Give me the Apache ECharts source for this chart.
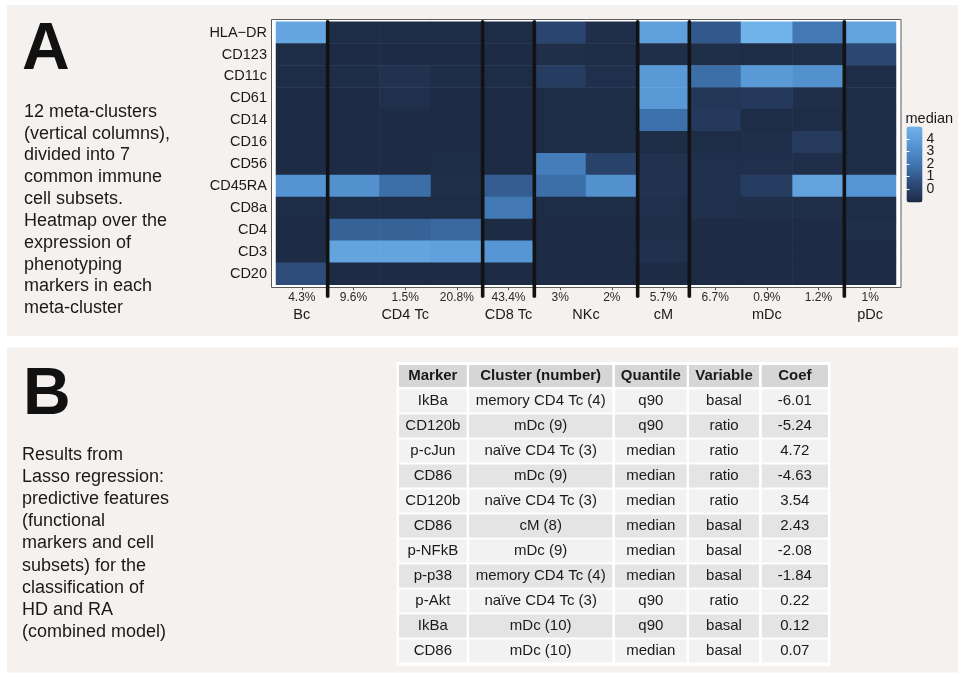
<!DOCTYPE html>
<html>
<head>
<meta charset="utf-8">
<script src="https://cdn.jsdelivr.net/npm/echarts@6/dist/echarts.min.js"></script>
<style>
  html, body { margin: 0; padding: 0; background: #ffffff; }
  #chart { width: 958px; height: 676px; }
</style>
</head>
<body>
<div id="chart"></div>
<script>
// ---- Panel A: phenotyping markers (rows, top to bottom) ----
const markers = ['HLA−DR', 'CD123', 'CD11c', 'CD61', 'CD14', 'CD16', 'CD56', 'CD45RA', 'CD8a', 'CD4', 'CD3', 'CD20'];
// share of cells in each of the 12 meta-clusters (columns)
const clusterShares = ['4.3%', '9.6%', '1.5%', '20.8%', '43.4%', '3%', '2%', '5.7%', '6.7%', '0.9%', '1.2%', '1%'];
// immune cell subsets and how many meta-clusters each one spans
const subsetNames = ['Bc', 'CD4 Tc', 'CD8 Tc', 'NKc', 'cM', 'mDc', 'pDc'];
const subsetSizes = [1, 3, 1, 2, 1, 3, 1];

// median expression per marker, one value per meta-cluster
const medHLADR  = [4.36, -0.98, -0.98, -0.98, -0.98, 0.14, -0.91, 3.98, 0.95, 5.00, 2.12, 4.17];
const medCD123  = [-0.98, -1.04, -1.04, -1.04, -1.04, -0.91, -0.98, -0.91, -0.91, -0.98, -0.91, 0.26];
const medCD11c  = [-0.98, -0.98, -0.73, -0.98, -0.98, -0.23, -0.85, 3.67, 1.69, 3.67, 3.24, -0.98];
const medCD61   = [-1.04, -1.04, -0.85, -1.04, -1.04, -0.98, -0.98, 3.67, -0.48, -0.42, -0.91, -0.98];
const medCD14   = [-1.04, -1.04, -1.04, -1.04, -1.04, -0.98, -0.98, 1.81, -0.42, -0.98, -0.98, -0.98];
const medCD16   = [-1.04, -1.04, -1.04, -1.04, -1.04, -0.98, -0.98, -0.98, -0.98, -0.91, -0.36, -0.98];
const medCD56   = [-1.04, -1.04, -1.04, -0.98, -1.04, 2.31, 0.02, -0.73, -0.85, -0.85, -0.91, -0.98];
const medCD45RA = [3.43, 3.24, 1.69, -0.91, 1.07, 1.69, 3.24, -0.67, -0.79, -0.23, 4.17, 3.49];
const medCD8a   = [-0.98, -0.98, -0.98, -0.98, 2.12, -0.98, -0.98, -0.85, -0.85, -0.91, -0.91, -0.98];
const medCD4    = [-1.04, 1.26, 1.26, 1.50, -1.04, -1.04, -1.04, -0.91, -1.04, -1.04, -1.04, -0.91];
const medCD3    = [-1.04, 4.23, 4.23, 3.98, 3.55, -1.04, -1.04, -0.79, -1.04, -1.04, -1.04, -1.04];
const medCD20   = [0.45, -1.04, -1.04, -1.04, -1.04, -1.04, -1.04, -1.04, -1.04, -1.04, -1.04, -1.04];
const medianRows = [medHLADR, medCD123, medCD11c, medCD61, medCD14, medCD16, medCD56,
                    medCD45RA, medCD8a, medCD4, medCD3, medCD20];

const scaleMin = -1.1;
const scaleMax = 5.0;
const legendTicks = [0, 1, 2, 3, 4];

// ---- Panel B: Lasso regression table ----
const tableHeader = ['Marker', 'Cluster (number)', 'Quantile', 'Variable', 'Coef'];
const tabMarker   = ['IkBa', 'CD120b', 'p-cJun', 'CD86', 'CD120b', 'CD86', 'p-NFkB', 'p-p38', 'p-Akt', 'IkBa', 'CD86'];
const tabCluster  = ['memory CD4 Tc (4)', 'mDc (9)', 'naïve CD4 Tc (3)', 'mDc (9)', 'naïve CD4 Tc (3)', 'cM (8)',
                     'mDc (9)', 'memory CD4 Tc (4)', 'naïve CD4 Tc (3)', 'mDc (10)', 'mDc (10)'];
const tabQuantile = ['q90', 'q90', 'median', 'median', 'median', 'median', 'median', 'median', 'q90', 'q90', 'median'];
const tabVariable = ['basal', 'ratio', 'ratio', 'ratio', 'ratio', 'basal', 'basal', 'basal', 'ratio', 'basal', 'basal'];
const tabCoef     = ['-6.01', '-5.24', '4.72', '-4.63', '3.54', '2.43', '-2.08', '-1.84', '0.22', '0.12', '0.07'];

// ---- derived data ----
const heatData = [];
medianRows.forEach((row, r) => row.forEach((v, c) => heatData.push([c, r, v])));

const subsetCenters = [];
const subsetBounds = [];
let acc = 0;
subsetSizes.forEach((n, i) => {
  subsetCenters.push(acc + n / 2);
  acc += n;
  if (i < subsetSizes.length - 1) subsetBounds.push(acc);
});
// colour-bar labels split over two axes so none of them gets thinned out
const legendTicksEven = legendTicks.filter((_, i) => i % 2 === 0);
const legendTicksOdd = legendTicks.filter((_, i) => i % 2 === 1);

const FONT = "'Liberation Sans', Arial, Helvetica, sans-serif";
const INK = '#1a1a1a';
const PANEL_BG = '#f4f1ef';

// ---- page decoration: panels, letters, captions, table ----
const graphics = [
  { type: 'rect', z: 0, shape: { x: 7, y: 5, width: 951, height: 331 }, style: { fill: PANEL_BG } },
  { type: 'rect', z: 0, shape: { x: 7, y: 347.5, width: 951, height: 325 }, style: { fill: PANEL_BG } },
  { type: 'text', z: 10, x: 22, y: 50.5,
    style: { text: 'A', font: `bold 66px ${FONT}`, fill: '#111', verticalAlign: 'middle' } },
  { type: 'text', z: 10, x: 23, y: 396,
    style: { text: 'B', font: `bold 66px ${FONT}`, fill: '#111', verticalAlign: 'middle' } },
  { type: 'text', z: 10, x: 24, y: 100.8,
    style: {
      text: '12 meta-clusters\n(vertical columns),\ndivided into 7\ncommon immune\ncell subsets.\nHeatmap over the\nexpression of\nphenotyping\nmarkers in each\nmeta-cluster',
      font: `18px ${FONT}`, lineHeight: 21.85, fill: INK, verticalAlign: 'top'
    } },
  { type: 'text', z: 10, x: 22, y: 444,
    style: {
      text: 'Results from\nLasso regression:\npredictive features\n(functional\nmarkers and cell\nsubsets) for the\nclassification of\nHD and RA\n(combined model)',
      font: `18px ${FONT}`, lineHeight: 22.1, fill: INK, verticalAlign: 'top'
    } },
  { type: 'text', z: 10, x: 905.5, y: 118.5,
    style: { text: 'median', font: `14.5px ${FONT}`, fill: INK, verticalAlign: 'middle' } }
];

// table layout
const colLeft  = [399, 469, 615, 689, 761.7];
const colRight = [466.7, 612.3, 686.7, 759, 828];
const headCenter = 376;
const rowCenter0 = 401;
const rowPitch = 25;
graphics.push({ type: 'rect', z: 1, shape: { x: 396.5, y: 362, width: 434, height: 304 }, style: { fill: '#ffffff' } });
const tableCols = [tabMarker, tabCluster, tabQuantile, tabVariable, tabCoef];
tableHeader.forEach((h, c) => {
  graphics.push({ type: 'rect', z: 2,
    shape: { x: colLeft[c], y: headCenter - 11, width: colRight[c] - colLeft[c], height: 22 },
    style: { fill: '#d6d6d6' } });
  graphics.push({ type: 'text', z: 3, x: (colLeft[c] + colRight[c]) / 2, y: headCenter,
    style: { text: h, font: `bold 15px ${FONT}`, fill: INK, align: 'center', verticalAlign: 'middle' } });
});
tabMarker.forEach((_, r) => {
  const cy = rowCenter0 + r * rowPitch;
  tableCols.forEach((col, c) => {
    graphics.push({ type: 'rect', z: 2,
      shape: { x: colLeft[c], y: cy - 11.5, width: colRight[c] - colLeft[c], height: 23 },
      style: { fill: r % 2 === 0 ? '#f2f2f2' : '#e4e4e4' } });
    graphics.push({ type: 'text', z: 3, x: (colLeft[c] + colRight[c]) / 2, y: cy,
      style: { text: col[r], font: `15px ${FONT}`, fill: INK, align: 'center', verticalAlign: 'middle' } });
  });
});

function legendAxis(position, labelValues, tickValues) {
  return {
    gridIndex: 2, type: 'value', min: scaleMin, max: scaleMax, position: position,
    axisLine: { show: false }, splitLine: { show: false },
    axisTick: { show: tickValues.length > 0, inside: true, length: 3, customValues: tickValues,
      lineStyle: { color: '#ffffff', width: 1 } },
    axisLabel: { show: labelValues.length > 0, customValues: labelValues,
      showMinLabel: true, showMaxLabel: true,
      margin: 4, fontSize: 14, color: INK, fontFamily: FONT }
  };
}

const chart = echarts.init(document.getElementById('chart'), null, { renderer: 'canvas' });

chart.setOption({
  animation: false,
  backgroundColor: '#ffffff',
  textStyle: { fontFamily: FONT },
  graphic: { elements: graphics },
  grid: [
    // panel frame
    { z: 1, left: 271.5, top: 19.5, width: 629.5, height: 268, show: true,
      backgroundColor: '#ffffff', borderColor: '#5a5a5a', borderWidth: 1, containLabel: false },
    // heatmap tiles
    { z: 1, left: 276, top: 21.7, width: 620, height: 263, containLabel: false },
    // colour bar ticks
    { z: 1, left: 906.5, top: 126.5, width: 16, height: 76, containLabel: false }
  ],
  xAxis: [
    { gridIndex: 0, type: 'value', show: false },
    { gridIndex: 1, type: 'category', data: clusterShares, position: 'bottom', offset: 2.5,
      axisLine: { show: false },
      axisTick: { show: true, alignWithLabel: true, length: 3, lineStyle: { color: '#555', width: 1 } },
      axisLabel: { margin: 4.5, fontSize: 12, color: '#2a2a2a', fontFamily: FONT },
      splitLine: { show: false } },
    { gridIndex: 1, type: 'value', min: 0, max: subsetSizes.reduce((a, b) => a + b, 0),
      position: 'bottom', offset: 2.5,
      axisLine: { show: false }, axisTick: { show: false }, splitLine: { show: false },
      axisLabel: {
        customValues: subsetCenters, margin: 20, fontSize: 14.5, color: INK, fontFamily: FONT,
        showMinLabel: true, showMaxLabel: true,
        formatter: (v) => subsetNames[subsetCenters.indexOf(v)] || ''
      } },
    { gridIndex: 2, type: 'value', show: false }
  ],
  yAxis: [
    { gridIndex: 0, type: 'value', show: false },
    { gridIndex: 1, type: 'category', data: markers, inverse: true, offset: 4,
      axisLine: { show: false },
      axisTick: { show: true, alignWithLabel: true, length: 3.5, lineStyle: { color: '#555', width: 1 } },
      axisLabel: { margin: 5, fontSize: 14.5, color: INK, fontFamily: FONT },
      splitLine: { show: false } },
    legendAxis('right', legendTicksEven, legendTicks),
    legendAxis('right', legendTicksOdd, []),
    legendAxis('left', [], legendTicks)
  ],
  visualMap: {
    type: 'continuous',
    seriesIndex: 0,
    min: scaleMin,
    max: scaleMax,
    orient: 'vertical',
    left: 906.5,
    top: 126.5,
    itemWidth: 16,
    itemHeight: 76,
    padding: 0,
    calculable: false,
    text: null,
    showLabel: false,
    z: 0,
    inRange: { color: ['#1d2a42', '#2d4b79', '#3f75b1', '#5695d3', '#70b2ea'] }
  },
  series: [
    {
      type: 'heatmap',
      xAxisIndex: 1,
      yAxisIndex: 1,
      data: heatData,
      z: 2,
      itemStyle: { borderWidth: 0 },
      emphasis: { disabled: true }
    },
    {
      // thick separators between the cell subsets
      type: 'custom',
      xAxisIndex: 2,
      yAxisIndex: 1,
      z: 5,
      clip: false,
      silent: true,
      data: subsetBounds.map(b => [b, 0]),
      renderItem: (params, api) => {
        const x = api.coord([api.value(0), 0])[0];
        const cs = params.coordSys;
        return {
          type: 'line',
          shape: { x1: x, y1: cs.y, x2: x, y2: cs.y + cs.height + 11.5 },
          style: { stroke: '#121212', lineWidth: 3.6, lineCap: 'round' }
        };
      }
    }
  ]
});
</script>
</body>
</html>
